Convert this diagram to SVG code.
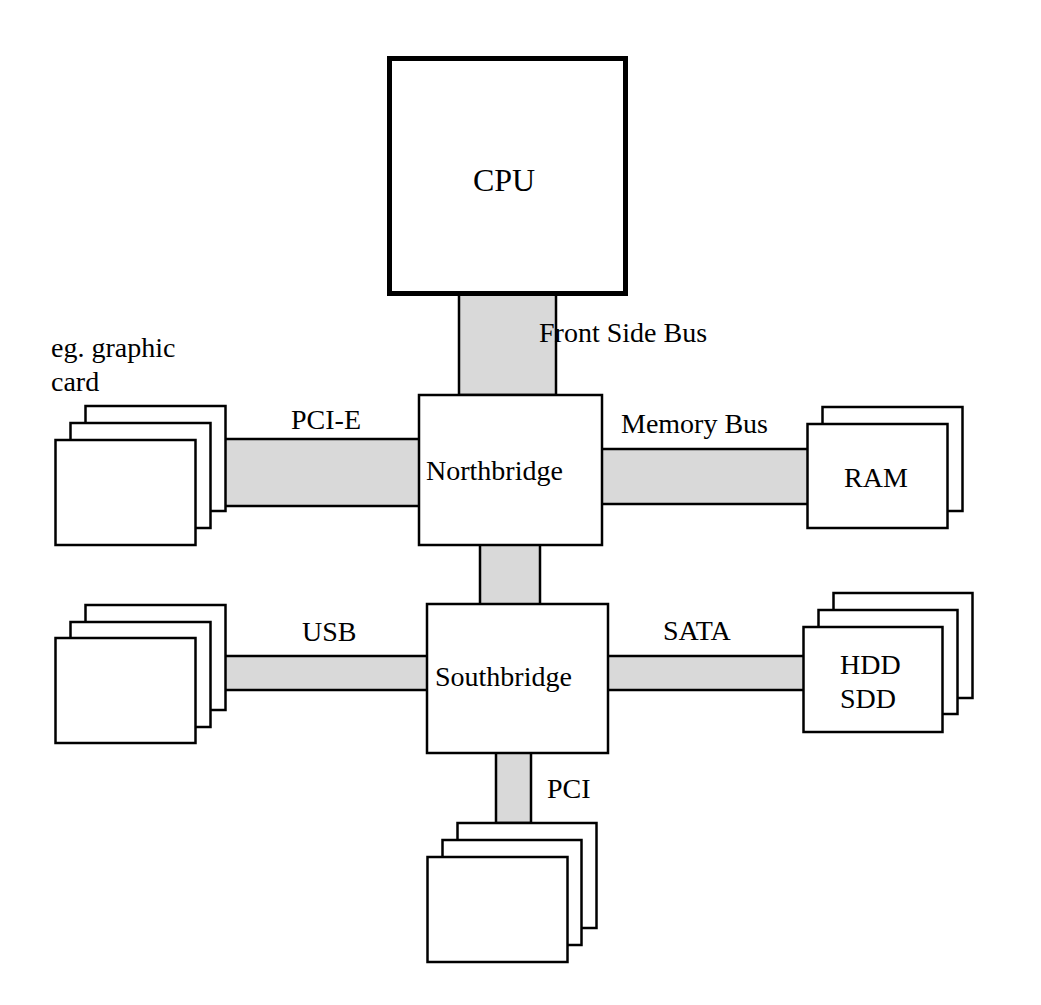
<svg xmlns="http://www.w3.org/2000/svg" width="1041" height="1005" viewBox="0 0 1041 1005">
<style>
.box{fill:#fff;stroke:#000;stroke-width:2.5}
.bus{fill:#d9d9d9;stroke:#000;stroke-width:2.5}
.cpu{fill:#fff;stroke:#000;stroke-width:5}
text{font-family:"Liberation Serif","Times New Roman",serif;font-size:28px;fill:#000}
</style>
<rect width="1041" height="1005" fill="#fff"/>
<g id="connectors">
<rect class="bus" x="459" y="294" width="97" height="101"/>
<rect class="bus" x="224" y="439" width="196" height="67"/>
<rect class="bus" x="601" y="449" width="208" height="55"/>
<rect class="bus" x="480" y="544" width="60" height="61"/>
<rect class="bus" x="224" y="656" width="205" height="34"/>
<rect class="bus" x="607" y="656" width="198" height="34"/>
<rect class="bus" x="496" y="752" width="35" height="71"/>
<text x="539" y="342">Front Side Bus</text>
<text x="291" y="429">PCI-E</text>
<text x="621" y="433">Memory Bus</text>
<text x="302" y="641">USB</text>
<text x="663" y="640">SATA</text>
<text x="547" y="798">PCI</text>
</g>
<g id="cpu">
<rect class="cpu" x="389.5" y="58.5" width="236" height="235"/>
<text x="504" y="191" text-anchor="middle" style="font-size:32px">CPU</text>
</g>
<g id="northbridge">
<rect class="box" x="419" y="395" width="183" height="150"/>
<text x="426" y="480">Northbridge</text>
</g>
<g id="southbridge">
<rect class="box" x="427" y="604" width="181" height="149"/>
<text x="435" y="686">Southbridge</text>
</g>
<g id="graphic-card">
<rect class="box" x="85.5" y="406" width="140" height="105"/>
<rect class="box" x="70.5" y="423" width="140" height="105"/>
<rect class="box" x="55.5" y="440" width="140" height="105"/>
<text x="51" y="357">eg. graphic</text>
<text x="51" y="391">card</text>
</g>
<g id="ram">
<rect class="box" x="822.5" y="407" width="140" height="104"/>
<rect class="box" x="807.5" y="424" width="140" height="104"/>
<text x="844" y="487">RAM</text>
</g>
<g id="usb-devices">
<rect class="box" x="85.5" y="605" width="140" height="105"/>
<rect class="box" x="70.5" y="622" width="140" height="105"/>
<rect class="box" x="55.5" y="638" width="140" height="105"/>
</g>
<g id="hdd-sdd">
<rect class="box" x="833.5" y="593" width="139" height="105"/>
<rect class="box" x="818.5" y="610" width="139" height="104"/>
<rect class="box" x="803.5" y="627" width="139" height="105"/>
<text x="840" y="674">HDD</text>
<text x="840" y="708">SDD</text>
</g>
<g id="pci-devices">
<rect class="box" x="457.5" y="823" width="139" height="105"/>
<rect class="box" x="442.5" y="840" width="139" height="105"/>
<rect class="box" x="427.5" y="857" width="140" height="105"/>
</g>
</svg>
